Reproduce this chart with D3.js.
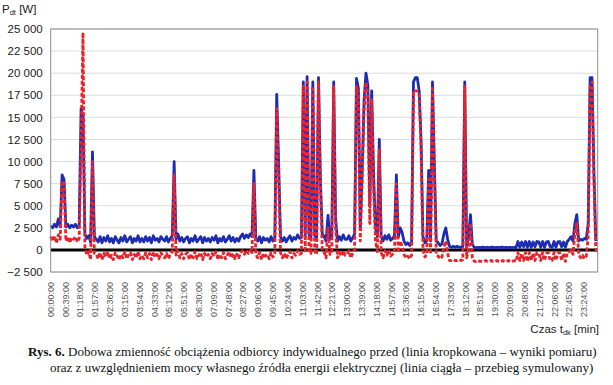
<!DOCTYPE html>
<html>
<head>
<meta charset="utf-8">
<script src="https://cdn.jsdelivr.net/npm/d3@7"></script>
<style>
    body { margin: 0; background: #fff; }
    svg { display: block; }
</style>
</head>
<body>
<svg id="chart"></svg>
<script>
// daily load of a single household: measured (dashed red) vs simulated with own source (solid blue)

// sampling step of the arrays below, minutes
const stepMin = 5;

// simulated load, W (solid blue), one value per 5 minutes, one row per hour
const simulated = [
    2700, 2500, 2900, 2600, 3500, 2600, 8500, 8000, 2600, 2900, 2500, 2800,
    2600, 2900, 2500, 2800, 16000, 15200, 1800, 1300, 1600, 900, 11100, 1500,
    1200, 900, 1500, 800, 1400, 1000, 1600, 900, 1300, 800, 1500, 1100,
    800, 1400, 1000, 1600, 900, 1200, 1500, 800, 1300, 1000, 1600, 900,
    1300, 900, 1500, 1000, 1400, 800, 1600, 1100, 1300, 900, 1500, 1200,
    1000, 1500, 900, 1300, 1600, 10000, 1200, 1800, 1000, 1400, 900, 1300,
    1500, 800, 1300, 1000, 1600, 900, 1200, 1500, 800, 1400, 1000, 1300,
    900, 1400, 1100, 1600, 800, 1300, 1000, 1500, 900, 1200, 1600, 1000,
    1400, 900, 1300, 1000, 1500, 1800, 1300, 1700, 1400, 1800, 1500, 9000,
    1300, 1000, 1500, 800, 1400, 1100, 1300, 900, 1500, 1000, 1400, 17600,
    10000, 1500, 1000, 1400, 900, 1300, 1600, 1000, 1400, 1200, 1700, 1300,
    1400, 19000, 1500, 19600, 1800, 1300, 19000, 1600, 1400, 19500, 8000, 1800,
    1500, 1000, 3900, 1200, 1500, 19000, 3600, 1000, 1500, 1100, 1700, 1200,
    1200, 1600, 1000, 1400, 1800, 19400, 18300, 2500, 9000, 17000, 20000, 18600,
    5000, 18000, 8500, 2500, 1500, 12500, 1500, 1000, 1600, 1200, 1700, 1100,
    1300, 1600, 8500, 1400, 2500, 2000, 1000, 600, 800, 500, 900, 19000,
    19500, 19500, 18000, 12400, 1500, 800, 1000, 9000, 1000, 19000, 9600, 1000,
    800, 500, 700, 1800, 2500, 1200, 400, 300, 400, 300, 400, 300,
    300, 400, 19000, 400, 1500, 4000, 600, 300, 250, 300, 250, 300,
    300, 250, 300, 250, 300, 300, 250, 300, 250, 300, 300, 250,
    300, 250, 300, 250, 300, 250, 950, 300, 900, 350, 950, 300,
    950, 300, 900, 350, 950, 900, 300, 950, 300, 900, 950, 350,
    300, 950, 300, 900, 950, 350, 900, 300, 950, 1200, 1500, 1000,
    3000, 4000, 1000, 1200, 1100, 1300, 1200, 3000, 19500, 19500, 9000, 1000
];

// measured load, W (dashed red)
const measured = [
    1500, 1000, 1600, 800, 1700, 1200, 7800, 7500, 1000, 1500, 800, 1400,
    1200, 1500, 900, 1300, 12000, 24600, 300, -600, -200, -1100, 10000, -400,
    -500, -1000, -300, -1100, -400, -800, -200, -1000, -600, -1100, -300, -700,
    -1100, -500, -900, -200, -1000, -600, -300, -1100, -500, -900, -200, -1000,
    -600, -1000, -300, -900, -400, -1100, -200, -800, -500, -1000, -300, -700,
    -900, -400, -1000, -500, -200, 8500, -600, -100, -900, -400, -1000, -500,
    -300, -1100, -500, -900, -200, -1000, -600, -300, -1100, -400, -800, -500,
    -1000, -400, -700, -200, -1100, -500, -900, -300, -1000, -600, -200, -900,
    -400, -1000, -500, -900, -300, -100, -500, 0, -400, -100, -300, 7500,
    -500, -900, -300, -1100, -400, -700, -500, -1000, -300, -800, -400, 16000,
    8000, -300, -900, -400, -1000, -500, -200, -900, -400, -600, -100, -500,
    -400, 18500, -300, 19000, 0, -400, 18500, -200, -500, 19000, 7000, 0,
    -300, -900, 2500, -500, -200, 18500, 2500, -900, -300, -700, -100, -600,
    -500, -100, -900, -400, 0, 18500, 17500, 1000, 8000, 16000, 19000, 17500,
    3000, 17000, 7000, 1000, -200, 11500, -300, -900, -100, -600, 0, -700,
    -500, -200, 7500, -300, 1000, 500, -500, -900, -700, -1000, -600, 18000,
    18000, 18000, 17500, 11500, 0, -800, -500, 8000, -500, 18500, 9000, -500,
    -700, -1000, -800, 300, 1000, -400, -1200, -1200, -1100, -1200, -1200, -1100,
    -1200, -1100, 18500, -900, 0, 3000, -900, -1300, -1300, -1200, -1300, -1300,
    -1300, -1200, -1300, -1300, -1200, -1300, -1300, -1200, -1300, -1300, -1200, -1300,
    -1300, -1200, -1300, -1300, -1200, -1300, -300, -1200, -400, -1200, -300, -1300,
    -300, -1200, -400, -1200, -300, -400, -1200, -300, -1200, -400, -300, -1200,
    -1200, -300, -1200, -400, -300, -1200, -400, -1300, -300, -200, 0, -500,
    2000, 3000, -500, -900, -600, -1000, -700, 1500, 18500, 19000, 8000, -200
];

const yTicks = [-2500, 0, 2500, 5000, 7500, 10000, 12500, 15000, 17500, 20000, 22500, 25000];

const timeLabels = [
    "00:00:00", "00:39:00", "01:18:00", "01:57:00", "02:36:00", "03:15:00", "03:54:00",
    "04:33:00", "05:12:00", "05:51:00", "06:30:00", "07:09:00", "07:48:00", "08:27:00",
    "09:06:00", "09:45:00", "10:24:00", "11:03:00", "11:42:00", "12:21:00", "13:00:00",
    "13:39:00", "14:18:00", "14:57:00", "15:36:00", "16:15:00", "16:54:00", "17:33:00",
    "18:12:00", "18:51:00", "19:30:00", "20:09:00", "20:48:00", "21:27:00", "22:06:00",
    "22:45:00", "23:24:00"
];

const width = 613;
const height = 385;
const plot = { left: 50.7, right: 597.7, top: 29, bottom: 272 };

let svg = d3.select('#chart')
            .attr('width', width)
            .attr('height', height)
            .style('font-family', '"Liberation Sans", Arial, sans-serif');

let x = d3.scaleLinear().domain([0, 1440]).range([plot.left, plot.right]);
let y = d3.scaleLinear().domain([-2500, 25000]).range([plot.bottom, plot.top]);

// horizontal grid
svg.append('g')
   .selectAll('line')
   .data(yTicks)
   .enter()
   .append('line')
   .attr('x1', plot.left)
   .attr('x2', plot.right)
   .attr('y1', d => y(d))
   .attr('y2', d => y(d))
   .attr('stroke', '#dcdcdc')
   .attr('stroke-width', 1);

// y axis labels, space as thousands separator
let fmt = d => d3.format(',')(d).replace(/,/g, ' ');
let yAxis = svg.append('g')
               .attr('transform', `translate(${plot.left},0)`)
               .call(d3.axisLeft(y).tickValues(yTicks).tickSize(0).tickPadding(8).tickFormat(fmt));
yAxis.select('.domain').remove();
yAxis.selectAll('text')
     .attr('font-size', 11.5)
     .attr('font-family', '"Liberation Sans", Arial, sans-serif')
     .attr('fill', '#222');

// rotated time labels under the plot
svg.append('g')
   .selectAll('text')
   .data(timeLabels)
   .enter()
   .append('text')
   .attr('transform', d => {
       let p = d.split(':');
       let m = (+p[0]) * 60 + (+p[1]);
       return `translate(${x(m)},282) rotate(-90)`;
   })
   .attr('dy', '0.35em')
   .attr('text-anchor', 'end')
   .attr('font-size', 9)
   .attr('fill', '#555')
   .text(d => d);

// zero level line
svg.append('line')
   .attr('x1', plot.left)
   .attr('x2', plot.right)
   .attr('y1', y(0))
   .attr('y2', y(0))
   .attr('stroke', '#000')
   .attr('stroke-width', 3);

let line = d3.line()
             .x((d, i) => x(i * stepMin))
             .y(d => y(d));

svg.append('path')
   .datum(simulated)
   .attr('d', line)
   .attr('fill', 'none')
   .attr('stroke', '#1c2db4')
   .attr('stroke-width', 2.8)
   .attr('stroke-linejoin', 'round');

svg.append('path')
   .datum(measured)
   .attr('d', line)
   .attr('fill', 'none')
   .attr('stroke', '#e8232b')
   .attr('stroke-width', 2.8)
   .attr('stroke-dasharray', '4,2')
   .attr('stroke-linejoin', 'round');

// plot frame
svg.append('rect')
   .attr('x', plot.left)
   .attr('y', plot.top)
   .attr('width', plot.right - plot.left)
   .attr('height', plot.bottom - plot.top)
   .attr('fill', 'none')
   .attr('stroke', '#8c8c8c')
   .attr('stroke-width', 1);

// axis titles
let pTitle = svg.append('text')
                .attr('x', 2)
                .attr('y', 13)
                .attr('font-size', 11.5)
                .attr('fill', '#222');
pTitle.append('tspan').text('P');
pTitle.append('tspan').attr('font-size', 7.5).attr('dy', 2).text('dt');
pTitle.append('tspan').attr('dy', -2).text(' [W]');

let tTitle = svg.append('text')
                .attr('x', 599)
                .attr('y', 333)
                .attr('text-anchor', 'end')
                .attr('font-size', 11.5)
                .attr('fill', '#222');
tTitle.append('tspan').text('Czas t');
tTitle.append('tspan').attr('font-size', 7.5).attr('dy', 2).text('dk');
tTitle.append('tspan').attr('dy', -2).text(' [min]');

// figure caption
let cap1 = svg.append('text')
              .attr('x', 28)
              .attr('y', 356)
              .attr('font-family', '"Liberation Serif", "Times New Roman", serif')
              .attr('font-size', 13)
              .attr('fill', '#111');
cap1.append('tspan').attr('font-weight', 'bold').text('Rys. 6.');
cap1.append('tspan').text(' Dobowa zmienność obciążenia odbiorcy indywidualnego przed (linia kropkowana – wyniki pomiaru)');

svg.append('text')
   .attr('x', 50)
   .attr('y', 372)
   .attr('font-family', '"Liberation Serif", "Times New Roman", serif')
   .attr('font-size', 13)
   .attr('fill', '#111')
   .text('oraz z uwzględnieniem mocy własnego źródła energii elektrycznej (linia ciągła – przebieg symulowany)');
</script>
</body>
</html>
